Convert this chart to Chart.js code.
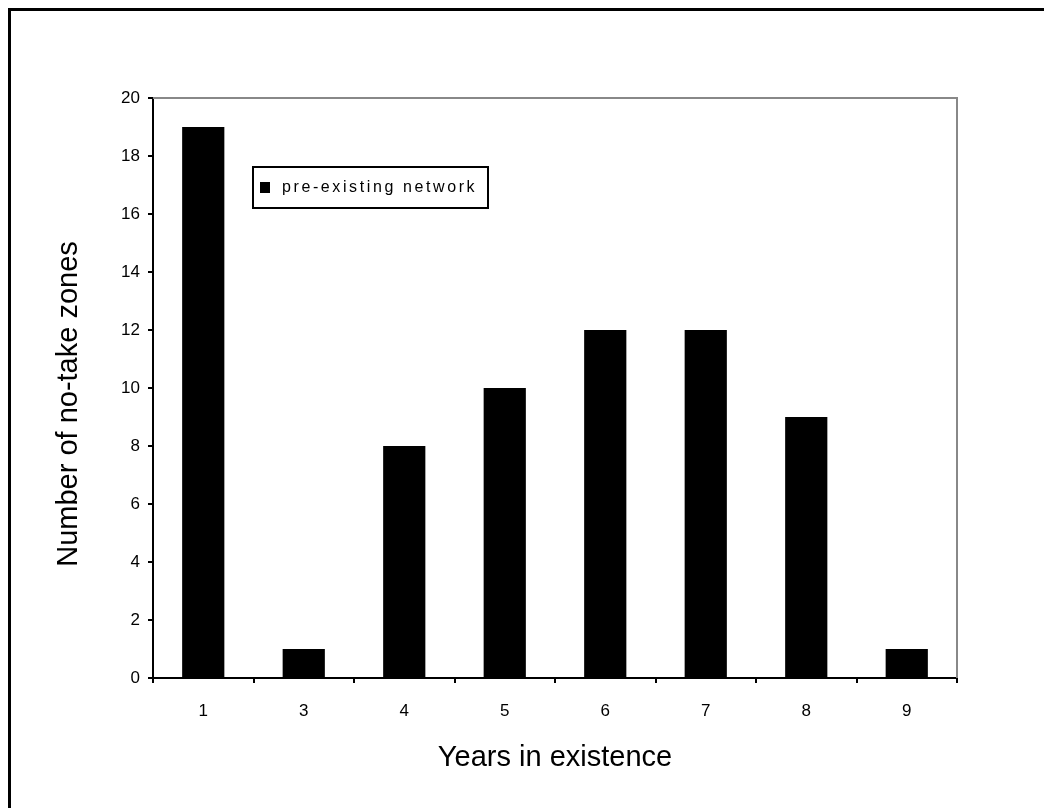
<!DOCTYPE html>
<html>
<head>
<meta charset="utf-8">
<script src="https://cdn.jsdelivr.net/npm/chart.js@4/dist/chart.umd.min.js"></script>
<style>
    html, body { margin: 0; padding: 0; background: #fff; }
    #wrap { width: 1044px; height: 808px; }
</style>
</head>
<body>
<div id="wrap"><canvas id="myChart" width="1044" height="808"></canvas></div>
<script>
const years = ["1", "3", "4", "5", "6", "7", "8", "9"];
const zoneCounts = [19, 1, 8, 10, 12, 12, 9, 1];
const seriesLabel = "pre-existing network";
const yTitle = "Number of no-take zones";

const FONT = "'Liberation Sans', Arial, sans-serif";

// Draws the outer frame, grey top/right plot border, y title and the boxed legend
const framePlugin = {
    id: "frame",
    beforeDraw(chart) {
        const c = chart.ctx;
        c.save();
        c.fillStyle = "#fff";
        c.fillRect(0, 0, chart.width, chart.height);
        c.strokeStyle = "#000";
        c.lineWidth = 3;
        c.beginPath();
        c.moveTo(9.5, chart.height + 5);
        c.lineTo(9.5, 9.5);
        c.lineTo(chart.width + 5, 9.5);
        c.stroke();
        c.restore();
    },
    afterDraw(chart) {
        const c = chart.ctx;
        const area = chart.chartArea;
        c.save();
        c.strokeStyle = "#888";
        c.lineWidth = 2;
        c.beginPath();
        c.moveTo(area.left, area.top);
        c.lineTo(area.right, area.top);
        c.lineTo(area.right, area.bottom);
        c.stroke();

        // y axis title, sits a bit below the plot's middle in the original
        c.save();
        c.translate(69, 404);
        c.rotate(-Math.PI / 2);
        c.fillStyle = "#000";
        c.font = "29px " + FONT;
        c.textAlign = "center";
        c.textBaseline = "middle";
        c.fillText(yTitle, 0, 0);
        c.restore();

        // legend box
        const x = 253, y = 167, w = 235, h = 41;
        c.fillStyle = "#fff";
        c.fillRect(x, y, w, h);
        c.strokeStyle = "#000";
        c.lineWidth = 2;
        c.strokeRect(x, y, w, h);
        c.fillStyle = "#000";
        c.fillRect(x + 7, y + 15, 10, 11);
        c.font = "16px " + FONT;
        c.letterSpacing = "2.6px";
        c.textBaseline = "middle";
        c.fillText(chart.data.datasets[0].label, x + 29, y + 21);
        c.restore();
    }
};

new Chart(document.getElementById("myChart"), {
    type: "bar",
    data: {
        labels: years,
        datasets: [{
            label: seriesLabel,
            data: zoneCounts,
            backgroundColor: "#000",
            borderWidth: 0,
            barPercentage: 0.42,
            categoryPercentage: 1
        }]
    },
    options: {
        responsive: false,
        animation: false,
        layout: { padding: { top: 98, right: 87, left: 52, bottom: 31 } },
        plugins: {
            legend: { display: false },
            tooltip: { enabled: false }
        },
        scales: {
            x: {
                grid: {
                    offset: true,
                    drawOnChartArea: false,
                    drawTicks: true,
                    tickLength: 5,
                    color: "#000",
                    lineWidth: 2
                },
                border: { color: "#000", width: 2 },
                ticks: { color: "#000", font: { family: FONT, size: 17 }, padding: 18 },
                title: {
                    display: true,
                    text: "Years in existence",
                    color: "#000",
                    font: { family: FONT, size: 29 },
                    padding: { top: 0, bottom: 2 }
                },
                afterFit(scale) { scale.height = 99; }
            },
            y: {
                min: 0,
                max: 20,
                ticks: { stepSize: 2, color: "#000", font: { family: FONT, size: 17 }, padding: 8 },
                grid: {
                    drawOnChartArea: false,
                    drawTicks: true,
                    tickLength: 5,
                    color: "#000",
                    lineWidth: 2
                },
                border: { color: "#000", width: 2 },
                afterFit(scale) { scale.width = 101; }
            }
        }
    },
    plugins: [framePlugin]
});
</script>
</body>
</html>
